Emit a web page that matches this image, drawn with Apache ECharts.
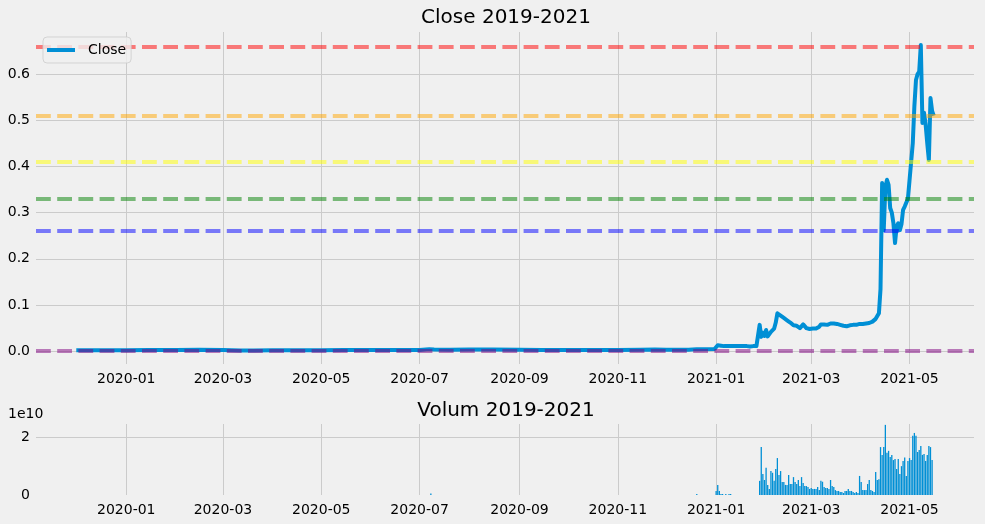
<!DOCTYPE html>
<html><head><meta charset="utf-8">
<script src="https://cdn.jsdelivr.net/npm/echarts@6/dist/echarts.min.js"></script>
<style>html,body{margin:0;padding:0;background:#f0f0f0}#c{width:985px;height:524px}</style>
</head><body><div id="c"></div>
<script>
// ---- axis domain / tick labels ----
const axisStart = '2019-11-06';
const axisEnd = '2021-06-10';
const tickLabels = ['2020-01','2020-03','2020-05','2020-07','2020-09','2020-11','2021-01','2021-03','2021-05'];
const yTicksClose = [0.0,0.1,0.2,0.3,0.4,0.5,0.6];

// ---- Close, sparse readings for the flat period ----
const closeEarlyDates = ['2019-12-01','2019-12-15','2020-01-01','2020-01-15','2020-02-01','2020-02-15','2020-03-01','2020-03-12','2020-03-20','2020-04-01','2020-04-15','2020-05-01','2020-05-15','2020-06-01','2020-06-15','2020-07-01','2020-07-07','2020-07-10','2020-07-20','2020-08-01','2020-08-15','2020-09-01','2020-09-15','2020-10-01','2020-10-15','2020-11-01','2020-11-15','2020-11-24','2020-12-01','2020-12-15','2020-12-20','2020-12-31'];
const closeEarlyValues = [0.0022,0.0020,0.0020,0.0025,0.0024,0.0030,0.0024,0.0017,0.0016,0.0018,0.0020,0.0022,0.0025,0.0027,0.0025,0.0025,0.0045,0.0035,0.0034,0.0036,0.0035,0.0033,0.0027,0.0026,0.0026,0.0026,0.0029,0.0036,0.0032,0.0034,0.0045,0.0047];

// ---- Close, daily from 2021-01-01 to 2021-05-15 ----
const close2021Start = '2021-01-01';
const close2021 = [
0.006,0.013,0.012,0.012,0.011,0.011,0.012,0.011,0.011,0.011,0.010,0.011,0.011,0.011,0.011,0.011,0.011,0.011,0.011,0.011,0.010,0.010,0.011,0.011,0.011,0.011,0.011,
0.057,0.031,0.040,0.033,
0.046,0.032,0.036,0.042,0.041,0.049,0.062,0.082,0.080,0.077,0.074,0.072,0.070,0.067,0.064,0.062,0.058,0.056,0.054,0.055,0.056,0.050,0.046,0.058,0.054,0.050,0.049,0.048,
0.050,0.049,0.051,0.049,0.051,0.053,0.058,0.058,0.058,0.057,0.057,0.060,0.060,0.059,0.060,0.059,0.059,0.058,0.057,0.056,0.055,0.053,0.054,0.056,0.056,0.056,0.057,0.058,0.057,0.058,0.059,
0.058,0.059,0.058,0.060,0.061,0.061,0.062,0.064,0.066,0.070,0.076,0.082,0.135,0.364,0.262,0.355,0.371,0.360,0.310,0.300,0.277,0.234,0.270,0.277,0.262,0.275,0.306,0.313,0.317,0.330,0.370,
0.410,0.450,0.530,0.587,0.600,0.605,0.663,0.494,0.516,0.490,0.450,0.414,0.548,0.520,0.510
];

// ---- Fibonacci levels ----
const levelValues = [0.663,0.507,0.411,0.333,0.255,0.0023];
const levelColors = ['#ff0000','#ffa500','#ffff00','#008000','#0000ff','#800080'];

// ---- Volume (units of 1e10) ----
const volumeEarlyDates = ['2020-07-08','2020-12-20'];
const volumeEarlyValues = [0.05,0.035];
const volume2021Start = '2021-01-01';
const volume2021 = [
0.14,0.35,0.14,0.035,0.035,0,0.035,0,0.035,0.035,0,0,0,0,0,0,0,0,0,0,0,0,0,0,0,0,0,
0.49,1.66,0.73,0.52,
0.94,0.35,0.21,0.83,0.77,0.49,0.90,1.28,0.69,0.83,0.45,0.45,0.35,0.35,0.69,0.38,0.38,0.62,0.45,0.38,0.52,0.31,0.62,0.42,0.31,0.31,0.28,0.21,
0.24,0.21,0.21,0.21,0.28,0.17,0.49,0.46,0.28,0.24,0.24,0.21,0.52,0.31,0.28,0.17,0.14,0.14,0.10,0.10,0.07,0.14,0.14,0.21,0.14,0.14,0.10,0.07,0.10,0.07,0.66,
0.45,0.17,0.17,0.17,0.38,0.52,0.17,0.14,0.10,0.80,0.52,0.55,1.66,1.39,1.66,2.43,1.46,1.53,1.32,1.39,1.21,1.25,0.90,1.25,0.73,1.00,1.18,1.30,0.66,1.18,
1.28,1.21,2.05,2.15,2.05,1.49,1.56,1.70,1.39,1.42,1.18,1.39,1.70,1.66,1.21
];

// ---- helpers ----
function iso(d){ return d.toISOString().slice(0,10); }
function addDays(s, n){ const d = new Date(s + 'T00:00:00Z'); d.setUTCDate(d.getUTCDate() + n); return iso(d); }
const axisDays = [];
for (let d = new Date(axisStart + 'T00:00:00Z'); iso(d) <= axisEnd; d.setUTCDate(d.getUTCDate() + 1)) axisDays.push(iso(d));

const closeSeries = closeEarlyDates.map((d,i)=>[d, closeEarlyValues[i]])
  .concat(close2021.map((v,i)=>[addDays(close2021Start,i), v]));
const volumeSeries = volumeEarlyDates.map((d,i)=>[d, volumeEarlyValues[i]])
  .concat(volume2021.map((v,i)=>[addDays(volume2021Start,i), v]).filter(p=>p[1]>0));

const tickFn = (idx, val) => val.slice(8) === '01' && tickLabels.indexOf(val.slice(0,7)) >= 0;
const FONT = 'DejaVu Sans';
const GRID_L = 36, GRID_R = 11;

function xAxis(gi){
  return {
    type:'category', gridIndex:gi, data:axisDays, boundaryGap:false,
    axisLine:{show:false}, axisTick:{show:false},
    axisLabel:{interval:tickFn, formatter:v=>v.slice(0,7), fontSize:14, color:'#000', fontFamily:FONT, margin:8},
    splitLine:{show:true, interval:tickFn, lineStyle:{color:'#cbcbcb', width:1}}
  };
}

const chart = echarts.init(document.getElementById('c'), null, {renderer:'canvas'});
chart.setOption({
  animation:false,
  backgroundColor:'#f0f0f0',
  textStyle:{fontFamily:FONT},
  title:[
    {text:'Close 2019-2021', top:8, padding:0, left:506, textAlign:'center', textStyle:{fontSize:20, fontWeight:'normal', color:'#000', fontFamily:FONT}},
    {text:'Volum 2019-2021', top:401, padding:0, left:506, textAlign:'center', textStyle:{fontSize:20, fontWeight:'normal', color:'#000', fontFamily:FONT}},
    {text:'1e10', left:8, top:407, padding:0, textStyle:{fontSize:14, fontWeight:'normal', color:'#000', fontFamily:FONT}}
  ],
  legend:{
    data:['Close'], left:43, top:37, orient:'vertical', z:10,
    icon:'rect', itemWidth:28, itemHeight:4,
    padding:[6,5,6,4], borderColor:'rgba(204,204,204,0.8)', borderWidth:1, borderRadius:4,
    backgroundColor:'rgba(240,240,240,0.8)',
    textStyle:{fontSize:14, color:'#000', fontFamily:FONT, padding:[0,0,0,8]}
  },
  grid:[
    {left:GRID_L, right:GRID_R, top:32, height:332},
    {left:GRID_L, right:GRID_R, top:424, height:71}
  ],
  xAxis:[xAxis(0), xAxis(1)],
  yAxis:[
    {type:'value', gridIndex:0, min:-0.0277, max:0.691, splitNumber:7,
     axisLine:{show:false}, axisTick:{show:false},
     axisLabel:{fontSize:14, color:'#000', fontFamily:FONT, margin:6,
       formatter:v=>{ const k = yTicksClose.find(t=>Math.abs(t-v)<1e-6); return k===undefined ? '' : k.toFixed(1); }},
     splitLine:{show:true, showMinLine:false, showMaxLine:false, lineStyle:{color:'#cbcbcb', width:1}}},
    {type:'value', gridIndex:1, min:0, max:2.46, interval:2,
     axisLine:{show:false}, axisTick:{show:false},
     axisLabel:{fontSize:14, color:'#000', fontFamily:FONT, margin:6,
       formatter:v=>(Math.abs(v-Math.round(v))<1e-6 ? String(Math.round(v)) : '')},
     splitLine:{show:true, showMinLine:false, showMaxLine:false, lineStyle:{color:'#cbcbcb', width:1}}}
  ],
  series:[
    {name:'Close', type:'line', xAxisIndex:0, yAxisIndex:0, data:closeSeries, symbol:'none', z:2,
     lineStyle:{color:'#008fd5', width:4, join:'round', cap:'butt'}, itemStyle:{color:'#008fd5'}},
    {name:'levels', type:'line', xAxisIndex:0, yAxisIndex:0, data:[], z:5,
     markLine:{symbol:'none', silent:true, label:{show:false}, animation:false,
       data:levelValues.map((v,i)=>({yAxis:v, lineStyle:{color:levelColors[i], opacity:0.5, width:4, type:[14.8,6.4]}}))}},
    {name:'Volume', type:'bar', xAxisIndex:1, yAxisIndex:1, data:volumeSeries, barWidth:1.3,
     itemStyle:{color:'#008fd5'}}
  ]
});
</script></body></html>
